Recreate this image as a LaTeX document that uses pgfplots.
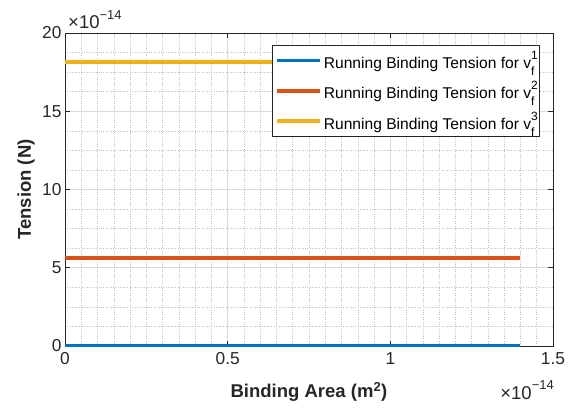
\documentclass[border=0pt]{standalone}
\usepackage{pgfplots}
\pgfplotsset{compat=1.18}
\usepackage{fontspec}
\setmainfont{Liberation Sans}
\definecolor{mblue}{rgb}{0,0.447,0.741}
\definecolor{morange}{rgb}{0.85,0.325,0.098}
\definecolor{myellow}{rgb}{0.929,0.694,0.125}
\definecolor{axgray}{rgb}{0.15,0.15,0.15}
\definecolor{majgrid}{rgb}{0.86,0.86,0.86}
\definecolor{mingrid}{rgb}{0.76,0.76,0.76}
\newcommand{\vf}[1]{v\makebox[0pt][l]{\raisebox{0.55em}{\fontsize{12}{12}\selectfont #1}}\raisebox{-0.45em}{\fontsize{12}{12}\selectfont f}}
\newcommand{\scl}{{\fontsize{18.5}{20}\selectfont ×10\raisebox{0.5em}{\fontsize{13}{13}\selectfont −14}}}
\begin{document}
\begin{tikzpicture}
\useasboundingbox (-65pt,-64pt) rectangle (510pt,346pt);
\begin{axis}[
  scale only axis, width=488pt, height=313pt,
  xmin=0, xmax=1.5, ymin=0, ymax=20,
  xtick={0,0.5,1,1.5}, ytick={0,5,10,15,20},
  minor x tick num=9, minor y tick num=3,
  grid=both,
  major grid style={majgrid, line width=0.7pt},
  minor grid style={mingrid, dotted, line width=0.6pt},
  minor tick length=0pt, major tick length=5pt,
  tick align=inside,
  axis line style={axgray, line width=0.7pt},
  tick style={axgray, line width=0.7pt},
  ticklabel style={font=\fontsize{17.3}{20}\selectfont, text=axgray},
  xticklabel style={yshift=-3pt},
  /pgf/number format/assume math mode=true,
  xlabel={\bfseries Binding Area (m\textsuperscript{2})},
  ylabel={\bfseries Tension (N)},
  label style={font=\fontsize{18.5}{22}\selectfont, text=axgray},
  xlabel style={at={(axis description cs:0.5,-0.166)}, anchor=base},
  ylabel style={at={(axis description cs:-0.07,0.5)}, anchor=base},
  legend style={at={(0.973,0.962)}, anchor=north east, draw=axgray, line width=0.7pt,
    font=\fontsize{15.6}{18}\selectfont, cells={anchor=west}, row sep=8pt,
    inner xsep=3pt, inner ysep=4pt},
  legend image code/.code={\draw[#1, line width=3.8pt] (0pt,0pt) -- (43pt,0pt);},
]
\addplot[mblue, line width=3.8pt] coordinates {(0,0) (1.4,0)};
\addlegendentry{Running Binding Tension for \vf{1}}
\addplot[morange, line width=3.8pt] coordinates {(0,5.62) (1.4,5.62)};
\addlegendentry{Running Binding Tension for \vf{2}}
\addplot[myellow, line width=3.8pt] coordinates {(0,18.13) (1.4,18.13)};
\addlegendentry{Running Binding Tension for \vf{3}}
\end{axis}
\node[anchor=base west, inner sep=0pt, text=axgray] at (3pt,317pt) {\scl};
\node[anchor=base east, inner sep=0pt, text=axgray] at (489pt,-53pt) {\scl};
\end{tikzpicture}
\end{document}
